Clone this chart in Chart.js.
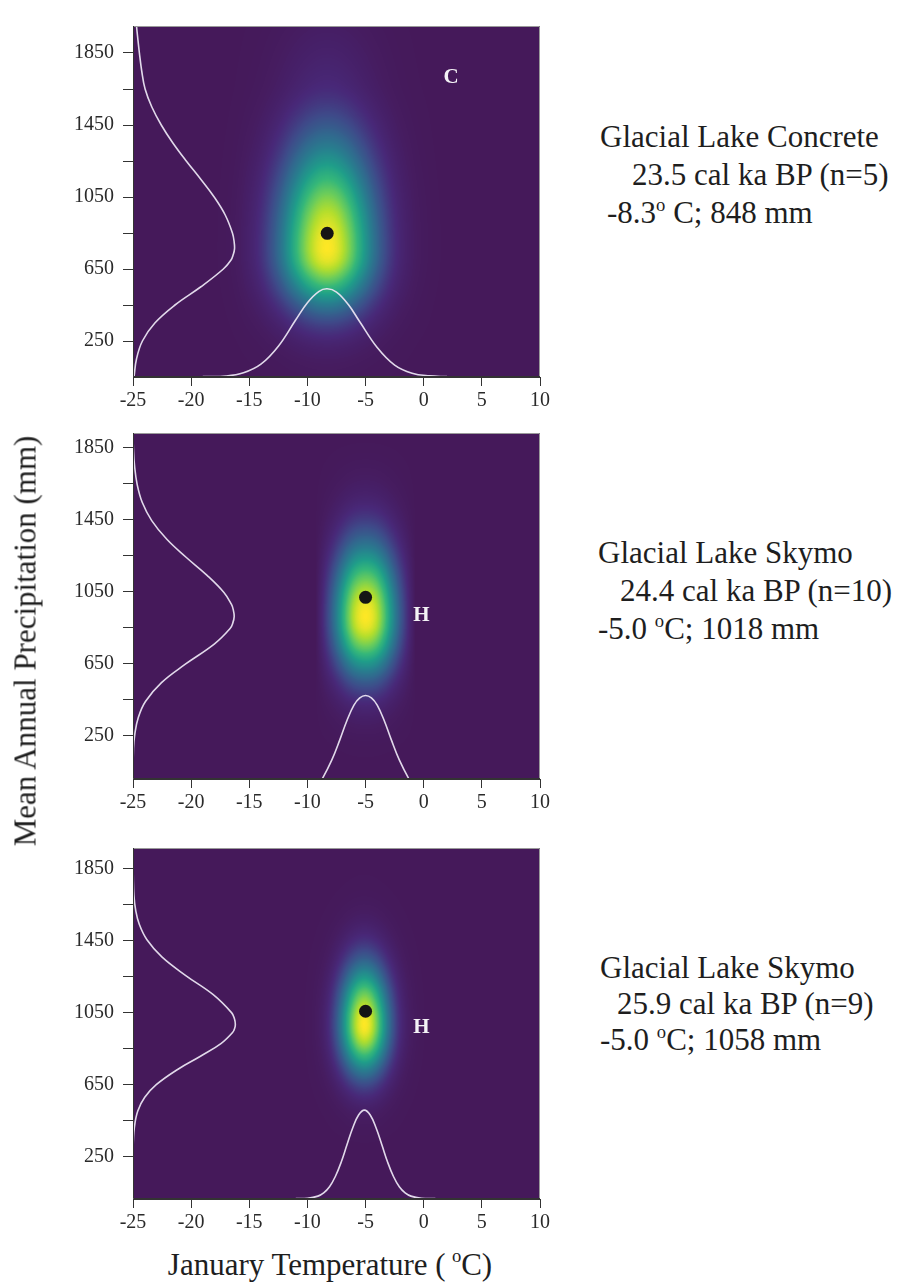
<!DOCTYPE html>
<html>
<head>
<meta charset="utf-8">
<title>Glacial lake climate envelopes</title>
<script src="https://cdn.jsdelivr.net/npm/chart.js@4.4.1/dist/chart.umd.min.js"></script>
<style>
  body { margin: 0; background: #fff; }
  #page { position: relative; width: 909px; height: 1282px; overflow: hidden; font-family: "Liberation Serif", "Times New Roman", serif; color: #1e1e1e; }
  #page canvas { position: absolute; left: 0; }
  .note { position: absolute; font-size: 31px; line-height: 1; white-space: nowrap; }
  .axis-title { position: absolute; font-size: 31px; line-height: 1; white-space: nowrap; }
  sup { font-size: 0.6em; vertical-align: 0.65em; line-height: 0; }
</style>
</head>
<body>
<div id="page">
  <canvas id="panel0" width="560" height="412"></canvas>
  <canvas id="panel1" width="560" height="407"></canvas>
  <canvas id="panel2" width="560" height="412"></canvas>
  <div class="axis-title" id="yTitle">Mean Annual Precipitation (mm)</div>
  <div class="axis-title" id="xTitle">January Temperature (&#8201;<sup>o</sup>C)</div>
</div>
<script>
// axis ticks (minor precipitation ticks carry no label)
const tempTicks = [-25, -20, -15, -10, -5, 0, 5, 10];
const precipTicks = [250, 450, 650, 850, 1050, 1250, 1450, 1650, 1850];
const precipTickLabels = ["250", "", "650", "", "1050", "", "1450", "", "1850"];

// sites
const siteNames = ["Glacial Lake Concrete", "Glacial Lake Skymo", "Glacial Lake Skymo"];
const siteAges = ["23.5 cal ka BP (n=5)", "24.4 cal ka BP (n=10)", "25.9 cal ka BP (n=9)"];
const siteCodes = ["C", "H", "H"];
const meanTemp = [-8.3, -5.0, -5.0];
const meanPrecip = [848, 1018, 1058];

// temperature marginals, drawn along the bottom: °C and height on the mm axis
const concreteTempX = [-19, -17, -15.5, -14, -12.5, -11, -10, -9, -8.3, -7.5, -6.5, -5.5, -4, -2.5, -1, 0.5, 2];
const concreteTempY = [52, 55, 73, 121, 221, 368, 463, 526, 540, 522, 454, 357, 214, 116, 71, 56, 52];
const skymo24TempX = [-9.3, -8.7, -7.9, -7.2, -6.6, -6.0, -5.5, -5.0, -4.5, -4.0, -3.4, -2.8, -2.1, -1.3, -0.7];
const skymo24TempY = [-45, 14, 116, 230, 335, 420, 460, 473, 460, 420, 335, 230, 116, 14, -45];
const skymo26TempX = [-11, -10, -9.1, -8.6, -8.1, -7.6, -7.1, -6.6, -6.1, -5.6, -5.1, -4.6, -4.1, -3.6, -3.1, -2.6, -2.1, -1.6, -1.1, -0.2, 1];
const skymo26TempY = [17, 19, 31, 49, 83, 140, 219, 316, 411, 482, 509, 482, 411, 316, 219, 140, 83, 49, 31, 19, 17];

// precipitation marginals, drawn up the left side: mm and offset on the °C axis
const concretePrecipY = [52, 150, 250, 350, 450, 550, 650, 700, 730, 762, 800, 850, 950, 1050, 1150, 1250, 1350, 1450, 1550, 1650, 1750, 1850, 1950, 2000];
const concretePrecipX = [-24.91, -24.7, -24.19, -23.12, -21.39, -19.19, -17.23, -16.57, -16.38, -16.27, -16.3, -16.45, -17.07, -18.02, -19.19, -20.42, -21.57, -22.57, -23.38, -23.96, -24.25, -24.45, -24.62, -24.7];
const skymo24PrecipY = [12, 180, 260, 350, 440, 545, 647, 760, 845, 875, 911, 950, 980, 1045, 1140, 1242, 1340, 1444, 1544, 1644, 1750, 1850, 1930];
const skymo24PrecipX = [-25, -24.96, -24.84, -24.55, -23.93, -22.55, -20.5, -17.99, -16.65, -16.42, -16.3, -16.38, -16.54, -17.18, -18.63, -20.46, -22.09, -23.39, -24.2, -24.64, -24.87, -24.97, -25];
const skymo26PrecipY = [15, 300, 414, 504, 580, 650, 736, 808, 880, 940, 965, 986, 1015, 1049, 1150, 1255, 1360, 1455, 1541, 1620, 1702, 1850, 1965];
const skymo26PrecipX = [-25, -24.99, -24.88, -24.59, -23.99, -23.0, -21.13, -19.2, -17.41, -16.44, -16.25, -16.2, -16.27, -16.51, -18.1, -20.43, -22.52, -23.8, -24.46, -24.77, -24.92, -24.99, -25];

const tempX = [concreteTempX, skymo24TempX, skymo26TempX];
const tempY = [concreteTempY, skymo24TempY, skymo26TempY];
const precipX = [concretePrecipX, skymo24PrecipX, skymo26PrecipX];
const precipY = [concretePrecipY, skymo24PrecipY, skymo26PrecipY];

// page layout for each panel
const panelBoxes = [
  { top: 5, yMin: 50, yMax: 2000, code: { x: 2.35, y: 1714 }, noteTop: 121, pitch: 38, indents: [600, 632, 607] },
  { top: 412, yMin: 10, yMax: 1930, code: { x: -0.2, y: 919 }, noteTop: 537, pitch: 38, indents: [598, 620, 598] },
  { top: 827, yMin: 15, yMax: 1965, code: { x: -0.2, y: 968 }, noteTop: 952, pitch: 36, indents: [600, 617, 600] },
];
const degreeAfterNumber = [true, false, false];

const FONT = "'Liberation Serif', 'Times New Roman', serif";
const curveColor = "rgba(234, 228, 242, 0.95)";
const viridisStops = ["#45195a", "#482878", "#3e4a89", "#31688e", "#26828e", "#1f9e89", "#35b779", "#6dcd59", "#b4de2c", "#fde725"];

const viridisLut = buildLut(viridisStops);

function buildLut(stops) {
  const rgb = stops.map((h) => [1, 3, 5].map((k) => parseInt(h.slice(k, k + 2), 16)));
  const lut = new Uint8ClampedArray(256 * 3);
  for (let i = 0; i < 256; i++) {
    const t = (i / 255) * (rgb.length - 1);
    const k = Math.min(Math.floor(t), rgb.length - 2);
    const f = t - k;
    for (let c = 0; c < 3; c++) lut[i * 3 + c] = rgb[k][c] + (rgb[k + 1][c] - rgb[k][c]) * f;
  }
  return lut;
}

function monotoneSpline(xs, ys) {
  const n = xs.length;
  const d = [];
  const m = new Array(n);
  for (let i = 0; i < n - 1; i++) d.push((ys[i + 1] - ys[i]) / (xs[i + 1] - xs[i]));
  m[0] = d[0];
  m[n - 1] = d[n - 2];
  for (let i = 1; i < n - 1; i++) m[i] = d[i - 1] * d[i] <= 0 ? 0 : (d[i - 1] + d[i]) / 2;
  for (let i = 0; i < n - 1; i++) {
    if (d[i] === 0) { m[i] = 0; m[i + 1] = 0; continue; }
    const a = m[i] / d[i], b = m[i + 1] / d[i], s = a * a + b * b;
    if (s > 9) {
      const t = 3 / Math.sqrt(s);
      m[i] = t * a * d[i];
      m[i + 1] = t * b * d[i];
    }
  }
  return (x) => {
    if (x <= xs[0]) return ys[0];
    if (x >= xs[n - 1]) return ys[n - 1];
    let i = 0;
    while (x > xs[i + 1]) i++;
    const h = xs[i + 1] - xs[i], t = (x - xs[i]) / h, t2 = t * t, t3 = t2 * t;
    return (2 * t3 - 3 * t2 + 1) * ys[i] + (t3 - 2 * t2 + t) * h * m[i] +
      (-2 * t3 + 3 * t2) * ys[i + 1] + (t3 - t2) * h * m[i + 1];
  };
}

// 0..1 weight from a marginal curve, measured from its base
function marginalWeight(xs, ys, base) {
  const curve = monotoneSpline(xs, ys);
  const peak = Math.max(...ys);
  return (v) => Math.max(0, Math.min(1, (curve(v) - base) / (peak - base)));
}

// joint density = product of the two marginals, painted cell by cell
function heatmapPlugin(tempWeight, precipWeight) {
  return {
    id: "heatmap",
    beforeDatasetsDraw(chart) {
      const { ctx, chartArea: a, scales: { x, y } } = chart;
      const w = Math.round(a.right - a.left);
      const h = Math.round(a.bottom - a.top);
      const off = document.createElement("canvas");
      off.width = w;
      off.height = h;
      const octx = off.getContext("2d");
      const img = octx.createImageData(w, h);
      const col = new Float32Array(w);
      for (let i = 0; i < w; i++) col[i] = tempWeight(x.getValueForPixel(a.left + i + 0.5));
      for (let j = 0; j < h; j++) {
        const row = precipWeight(y.getValueForPixel(a.top + j + 0.5));
        for (let i = 0; i < w; i++) {
          const k = Math.round(col[i] * row * 255) * 3;
          const p = (j * w + i) * 4;
          img.data[p] = viridisLut[k];
          img.data[p + 1] = viridisLut[k + 1];
          img.data[p + 2] = viridisLut[k + 2];
          img.data[p + 3] = 255;
        }
      }
      octx.putImageData(img, 0, 0);
      ctx.drawImage(off, a.left, a.top);
    },
  };
}

function framePlugin(code, at) {
  return {
    id: "frame",
    afterDatasetsDraw(chart) {
      const { ctx, chartArea: a, scales: { x, y } } = chart;
      ctx.save();
      ctx.lineWidth = 1;
      ctx.strokeStyle = "#9a9a9a";
      ctx.beginPath();
      ctx.moveTo(a.left, a.top + 0.5);
      ctx.lineTo(a.right - 0.5, a.top + 0.5);
      ctx.lineTo(a.right - 0.5, a.bottom);
      ctx.stroke();
      ctx.strokeStyle = "#333";
      ctx.beginPath();
      ctx.moveTo(a.left + 0.5, a.top);
      ctx.lineTo(a.left + 0.5, a.bottom - 0.5);
      ctx.lineTo(a.right, a.bottom - 0.5);
      ctx.stroke();
      ctx.font = "bold 21px " + FONT;
      ctx.fillStyle = "#f4f2f6";
      ctx.textAlign = "center";
      ctx.textBaseline = "middle";
      ctx.fillText(code, x.getPixelForValue(at.x), y.getPixelForValue(at.y));
      ctx.restore();
    },
  };
}

function points(xs, ys) {
  return xs.map((v, k) => ({ x: v, y: ys[k] }));
}

function buildPanel(i) {
  const box = panelBoxes[i];
  const canvas = document.getElementById("panel" + i);
  canvas.style.top = box.top + "px";

  const tempWeight = marginalWeight(tempX[i], tempY[i], Math.min(...tempY[i]));
  const precipWeight = marginalWeight(precipY[i], precipX[i], -25);

  const tickFont = { family: FONT, size: 20 };

  new Chart(canvas, {
    type: "scatter",
    data: {
      datasets: [
        {
          data: [{ x: meanTemp[i], y: meanPrecip[i] }],
          pointRadius: 6.5,
          backgroundColor: "#151515",
          borderWidth: 0,
        },
        {
          data: points(tempX[i], tempY[i]),
          showLine: true,
          borderColor: curveColor,
          borderWidth: 1.6,
          pointRadius: 0,
          tension: 0.4,
        },
        {
          data: points(precipX[i], precipY[i]),
          showLine: true,
          borderColor: curveColor,
          borderWidth: 1.6,
          pointRadius: 0,
          tension: 0.4,
        },
      ],
    },
    options: {
      responsive: false,
      animation: false,
      devicePixelRatio: 1,
      layout: { padding: { top: 10, right: 20, left: 0, bottom: 0 } },
      plugins: { legend: { display: false }, tooltip: { enabled: false } },
      scales: {
        x: {
          type: "linear",
          min: -25,
          max: 10,
          afterBuildTicks: (s) => { s.ticks = tempTicks.map((v) => ({ value: v })); },
          afterFit: (s) => { s.height = 40; },
          grid: { drawOnChartArea: false, tickLength: 9, color: "#333", lineWidth: 1 },
          border: { color: "#333", width: 1 },
          ticks: { color: "#2a2a2a", font: tickFont, padding: 3, autoSkip: false, maxRotation: 0, callback: (v) => String(v) },
        },
        y: {
          type: "linear",
          min: box.yMin,
          max: box.yMax,
          afterBuildTicks: (s) => { s.ticks = precipTicks.map((v) => ({ value: v })); },
          afterFit: (s) => { s.width = 133; },
          grid: { drawOnChartArea: false, tickLength: 10, color: "#333", lineWidth: 1 },
          border: { color: "#333", width: 1 },
          ticks: {
            color: "#2a2a2a",
            font: tickFont,
            padding: 9,
            autoSkip: false,
            callback: (v) => precipTickLabels[precipTicks.indexOf(v)] ?? "",
          },
        },
      },
    },
    plugins: [heatmapPlugin(tempWeight, precipWeight), framePlugin(siteCodes[i], box.code)],
  });

  // site note to the right of the panel
  const degree = degreeAfterNumber[i]
    ? `${meanTemp[i].toFixed(1)}<sup>o</sup> C; ${meanPrecip[i]} mm`
    : `${meanTemp[i].toFixed(1)} <sup>o</sup>C; ${meanPrecip[i]} mm`;
  const lines = [siteNames[i], siteAges[i], degree];
  lines.forEach((html, k) => {
    const el = document.createElement("div");
    el.className = "note";
    el.style.left = box.indents[k] + "px";
    el.style.top = box.noteTop + k * box.pitch + "px";
    el.innerHTML = html;
    document.getElementById("page").appendChild(el);
  });
}

[0, 1, 2].forEach(buildPanel);

const yTitle = document.getElementById("yTitle");
yTitle.style.left = "25px";
yTitle.style.top = "641px";
yTitle.style.transform = "translate(-50%, -50%) rotate(-90deg)";
const xTitle = document.getElementById("xTitle");
xTitle.style.left = "330px";
xTitle.style.top = "1264px";
xTitle.style.transform = "translate(-50%, -50%)";
</script>
</body>
</html>
